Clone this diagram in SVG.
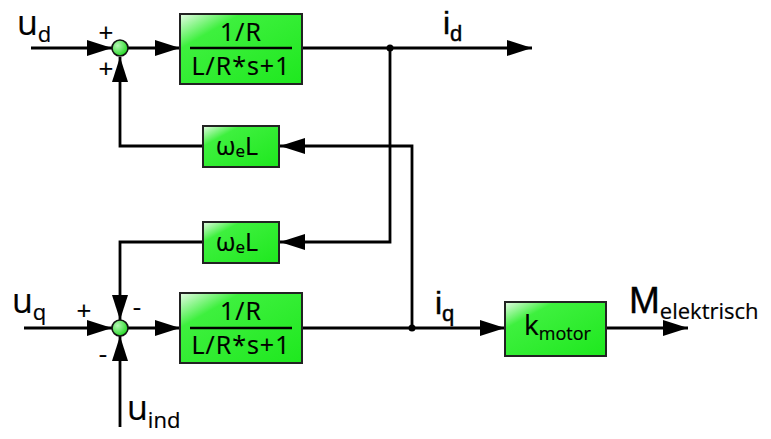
<svg xmlns="http://www.w3.org/2000/svg" width="771" height="439" viewBox="0 0 771 439">
<defs>
<linearGradient id="gBlock" x1="0" y1="0" x2="1" y2="1">
<stop offset="0" stop-color="#e6fbe6"/>
<stop offset="0.25" stop-color="#3ef03e"/>
<stop offset="1" stop-color="#1ee81e"/>
</linearGradient>
<radialGradient id="gSum" cx="0.35" cy="0.35" r="0.7">
<stop offset="0" stop-color="#b8f7b8"/>
<stop offset="1" stop-color="#1ed81e"/>
</radialGradient>
<marker id="arr" markerUnits="userSpaceOnUse" markerWidth="26" markerHeight="18" refX="25" refY="8" orient="auto">
<path d="M0,0 L25,8 L0,16 z" fill="#000"/>
</marker>
</defs>
<style>
.blk{fill:url(#gBlock);stroke:#222;stroke-width:2}
.sum{fill:url(#gSum);stroke:#111;stroke-width:1.6}
.ln{fill:none;stroke:#000;stroke-width:2.8}
.ar{marker-end:url(#arr)}
.t{font-family:"Open Sans","Liberation Sans",sans-serif;fill:#000;stroke:#000;stroke-width:0.2}
.a{font-family:"Liberation Sans",Arial,sans-serif;fill:#000;stroke:#000;stroke-width:0.4}
.f{font-size:25px;letter-spacing:1px}
</style>
<rect width="771" height="439" fill="#fff"/>
<g id="connectors">
<path class="ln ar" d="M31,48 H112"/>
<path class="ln ar" d="M128,48 H180"/>
<path class="ln ar" d="M302,48 H532"/>
<path class="ln ar" d="M390,48 V242 H280"/>
<path class="ln ar" d="M203,146 H120 V57"/>
<path class="ln ar" d="M412,328 V146 H280"/>
<path class="ln ar" d="M203,242 H120 V320"/>
<path class="ln ar" d="M24,328 H112"/>
<path class="ln ar" d="M128,328 H180"/>
<path class="ln ar" d="M302,328 H505"/>
<path class="ln ar" d="M606,328 H688"/>
<path class="ln ar" d="M120,427 V336"/>
<circle cx="390" cy="48" r="3.5" fill="#000"/>
<circle cx="412" cy="328" r="3.5" fill="#000"/>
</g>
<g id="sum1">
<circle class="sum" cx="120" cy="48" r="8"/>
<text class="t" x="106" y="42" font-size="26" text-anchor="middle">+</text>
<text class="t" x="106" y="78" font-size="26" text-anchor="middle">+</text>
</g>
<g id="sum2">
<circle class="sum" cx="120" cy="328" r="8"/>
<text class="t" x="84" y="320" font-size="26" text-anchor="middle">+</text>
<text class="t" x="137" y="316" font-size="26" text-anchor="middle">-</text>
<text class="t" x="103" y="363" font-size="26" text-anchor="middle">-</text>
</g>
<g id="pt1">
<rect class="blk" x="180" y="14" width="122" height="70"/>
<line x1="190" y1="48" x2="292" y2="48" stroke="#000" stroke-width="2.5"/>
<text class="t f" x="241" y="41" text-anchor="middle">1/R</text>
<text class="t f" x="241" y="75" text-anchor="middle">L/R*s+1</text>
</g>
<g id="pt2">
<rect class="blk" x="180" y="293" width="122" height="70"/>
<line x1="190" y1="328" x2="292" y2="328" stroke="#000" stroke-width="2.5"/>
<text class="t f" x="241" y="320" text-anchor="middle">1/R</text>
<text class="t f" x="241" y="354" text-anchor="middle">L/R*s+1</text>
</g>
<g id="wL1">
<rect class="blk" x="203" y="126" width="76" height="41"/>
<text class="t" x="237" y="155" font-size="25" text-anchor="middle">ω<tspan font-size="17" dy="2">e</tspan><tspan dy="-2">L</tspan></text>
</g>
<g id="wL2">
<rect class="blk" x="203" y="222" width="76" height="41"/>
<text class="t" x="237" y="251" font-size="25" text-anchor="middle">ω<tspan font-size="17" dy="2">e</tspan><tspan dy="-2">L</tspan></text>
</g>
<g id="kmotor">
<rect class="blk" x="505" y="302" width="101" height="54"/>
<text class="t" x="524" y="335" font-size="28">k<tspan font-size="18" dy="5">motor</tspan></text>
</g>
<g id="labels">
<text class="t" x="17" y="35" font-size="34">u<tspan font-size="22" dy="7">d</tspan></text>
<text class="t" x="12" y="313" font-size="34">u<tspan font-size="22" dy="7">q</tspan></text>
<text class="t" x="127" y="420" font-size="34">u<tspan font-size="22" dy="8">ind</tspan></text>
<text class="a" x="443" y="34" font-size="32">i<tspan font-size="22" dy="7">d</tspan></text>
<text class="a" x="435" y="314" font-size="32">i<tspan font-size="22" dy="7">q</tspan></text>
<text class="a" x="629" y="313" font-size="37">M<tspan class="t" font-size="22" dy="6">elektrisch</tspan></text>
</g>
</svg>
